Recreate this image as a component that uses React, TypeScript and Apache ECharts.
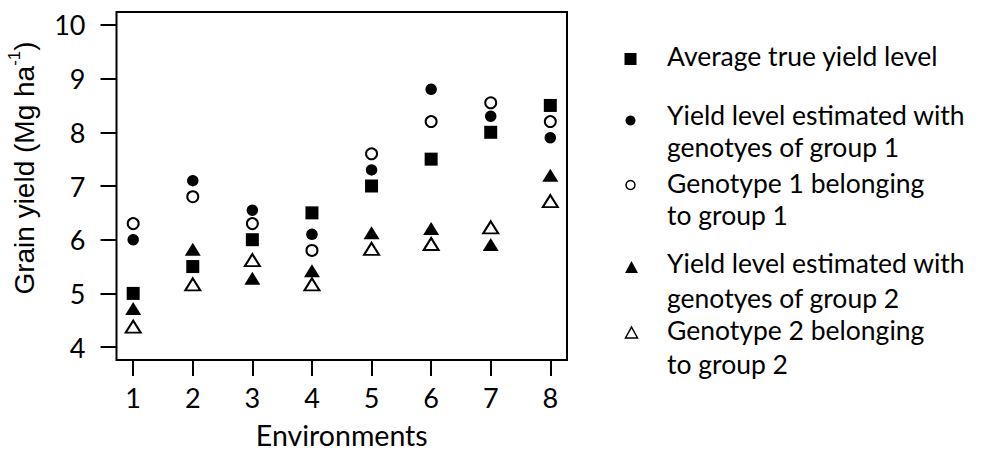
import React, { useEffect, useRef } from "react";
import * as echarts from "echarts";

const environments = [1, 2, 3, 4, 5, 6, 7, 8];
const yTicks = [4, 5, 6, 7, 8, 9, 10];
const avgTrue = [5.0, 5.5, 6.0, 6.5, 7.0, 7.5, 8.0, 8.5];
const estGroup1 = [6.0, 7.1, 6.55, 6.1, 7.3, 8.8, 8.3, 7.9];
const genotype1 = [6.3, 6.8, 6.3, 5.8, 7.6, 8.2, 8.55, 8.2];
const estGroup2 = [4.72, 5.82, 5.28, 5.42, 6.13, 6.21, 5.91, 7.2];
const genotype2 = [4.38, 5.17, 5.62, 5.17, 5.83, 5.92, 6.23, 6.72];

const seriesNames = [
  "Average true yield level",
  "Yield level estimated with\ngenotyes of group 1",
  "Genotype 1 belonging\nto group 1",
  "Yield level estimated with\ngenotyes of group 2",
  "Genotype 2 belonging\nto group 2",
];

const FONT = "Lato";

function pts(vals: number[]) {
  return environments.map((e, i) => [e, vals[i]]);
}

export default function App() {
  const ref = useRef<HTMLDivElement>(null);
  useEffect(() => {
    if (!ref.current) return;
    const chart = echarts.init(ref.current, null, { renderer: "svg" });
    const legendText = (x: number, y: number, text: string, lh: number) => ({
      type: "text",
      x,
      y,
      style: {
        text,
        fontFamily: FONT,
        fontSize: 26.5,
        lineHeight: lh,
        fill: "#000",
        verticalAlign: "middle",
        align: "left",
      },
    });
    const tx = 667;
    chart.setOption({
      animation: false,
      backgroundColor: "#fff",
      grid: {
        left: 116.5,
        top: 12,
        right: 417,
        bottom: 90,
        show: true,
        borderColor: "#000",
        borderWidth: 2,
      },
      xAxis: {
        type: "value",
        min: 0.72,
        max: 8.28,
        name: "Environments",
        nameLocation: "middle",
        nameGap: 60,
        nameTextStyle: { fontFamily: FONT, fontSize: 28.5, color: "#000" },
        axisLine: { show: false },
        splitLine: { show: false },
        axisTick: {
          show: true,
          customValues: environments,
          length: 16,
          lineStyle: { color: "#000", width: 2 },
        },
        axisLabel: {
          customValues: environments,
          margin: 24,
          fontFamily: FONT,
          fontSize: 27,
          color: "#000",
        },
      },
      yAxis: {
        type: "value",
        min: 3.76,
        max: 10.24,
        axisLine: { show: false },
        splitLine: { show: false },
        axisTick: {
          show: true,
          customValues: yTicks,
          length: 16,
          lineStyle: { color: "#000", width: 2 },
        },
        axisLabel: {
          customValues: yTicks,
          margin: 31,
          fontFamily: FONT,
          fontSize: 27,
          color: "#000",
        },
      },
      series: [
        {
          name: seriesNames[0],
          type: "scatter",
          data: pts(avgTrue),
          symbol: "rect",
          symbolSize: 13,
          itemStyle: { color: "#000", opacity: 1 },
        },
        {
          name: seriesNames[1],
          type: "scatter",
          data: pts(estGroup1),
          symbol: "circle",
          symbolSize: 11.5,
          itemStyle: { color: "#000", opacity: 1 },
        },
        {
          name: seriesNames[2],
          type: "scatter",
          data: pts(genotype1),
          symbol: "circle",
          symbolSize: 11,
          itemStyle: { color: "#fff", borderColor: "#000", borderWidth: 2, opacity: 1 },
        },
        {
          name: seriesNames[3],
          type: "scatter",
          data: pts(estGroup2),
          symbol: "triangle",
          symbolSize: [16, 13],
          itemStyle: { color: "#000", opacity: 1 },
        },
        {
          name: seriesNames[4],
          type: "scatter",
          data: pts(genotype2),
          symbol: "triangle",
          symbolSize: [15, 12],
          itemStyle: { color: "#fff", borderColor: "#000", borderWidth: 2, opacity: 1 },
        },
      ],
      graphic: [
        {
          type: "text",
          x: 22,
          y: 168,
          rotation: Math.PI / 2,
          style: {
            text: "{a|Grain yield (Mg ha}{b|-1}{a|)}",
            align: "center",
            verticalAlign: "middle",
            rich: {
              a: { fontFamily: "Liberation Sans", fontSize: 28, fill: "#000", lineHeight: 32, verticalAlign: "bottom" },
              b: { fontFamily: "Liberation Sans", fontSize: 17, fill: "#000", lineHeight: 32, verticalAlign: "top" },
            },
          },
        },
        { type: "rect", shape: { x: 624.5, y: 53, width: 12, height: 12 }, style: { fill: "#000" } },
        legendText(tx, 55.5, seriesNames[0], 32),
        { type: "circle", shape: { cx: 630.5, cy: 120.5, r: 5 }, style: { fill: "#000" } },
        legendText(tx, 130.5, seriesNames[1], 32),
        { type: "circle", shape: { cx: 630.5, cy: 185, r: 4.5 }, style: { fill: "#fff", stroke: "#000", lineWidth: 1.5 } },
        legendText(tx, 198.5, seriesNames[2], 32),
        { type: "polygon", shape: { points: [[631.5, 261], [625, 273], [638, 273]] }, style: { fill: "#000" } },
        legendText(tx, 280, seriesNames[3], 35),
        { type: "polygon", shape: { points: [[631.5, 327], [625.5, 338], [637.5, 338]] }, style: { fill: "#fff", stroke: "#000", lineWidth: 1.5 } },
        legendText(tx, 347, seriesNames[4], 34),
      ],
    });
    return () => chart.dispose();
  }, []);
  return (
    <div
      ref={ref}
      style={{ position: "fixed", left: 0, top: 0, width: 984, height: 454 }}
    />
  );
}
